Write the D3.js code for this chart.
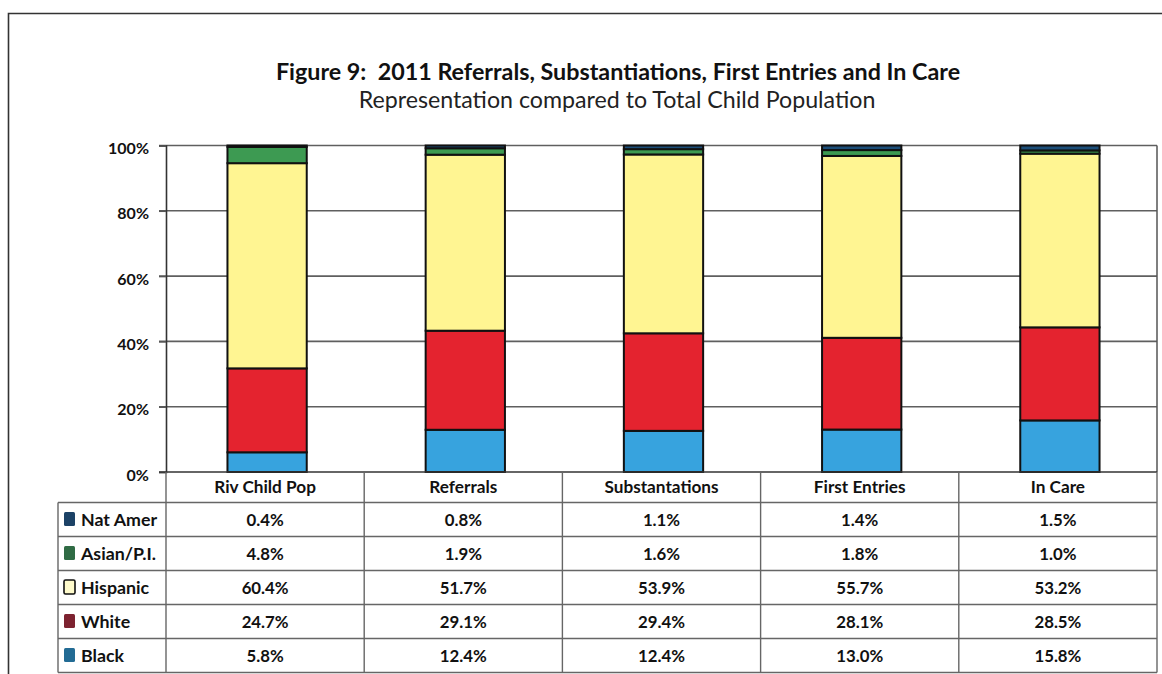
<!DOCTYPE html>
<html>
<head>
<meta charset="utf-8">
<script src="https://cdn.jsdelivr.net/npm/d3@7"></script>
<style>
  html, body { margin: 0; padding: 0; background: #fff; }
  svg { display: block; font-family: Lato, "Open Sans", sans-serif; }
</style>
</head>
<body>
<svg id="chart" width="1162" height="674"></svg>
<script>
// Racial/ethnic composition by stage (percent of each group)
const categories = ["Riv Child Pop", "Referrals", "Substantations", "First Entries", "In Care"];
const groups = ["Nat Amer", "Asian/P.I.", "Hispanic", "White", "Black"];
const natAmer  = [0.4, 0.8, 1.1, 1.4, 1.5];
const asianPI  = [4.8, 1.9, 1.6, 1.8, 1.0];
const hispanic = [60.4, 51.7, 53.9, 55.7, 53.2];
const white    = [24.7, 29.1, 29.4, 28.1, 28.5];
const black    = [5.8, 12.4, 12.4, 13.0, 15.8];
const yTicks = [0, 0.2, 0.4, 0.6, 0.8, 1];

const barColors = {"Nat Amer": "#1d4f7a", "Asian/P.I.": "#3d9a52", "Hispanic": "#fff592", "White": "#e4232f", "Black": "#37a3de"};
const swatchColors = {"Nat Amer": "#1c4266", "Asian/P.I.": "#2f6b44", "Hispanic": "#fffbcc", "White": "#7d2230", "Black": "#226b94"};

const seriesByGroup = {"Nat Amer": natAmer, "Asian/P.I.": asianPI, "Hispanic": hispanic, "White": white, "Black": black};
const rows = categories.map((c, i) => {
  const r = {category: c};
  groups.forEach(g => r[g] = seriesByGroup[g][i]);
  return r;
});

const svg = d3.select("#chart");

// outer frame
svg.append("path")
  .attr("d", "M8.5,674 L8.5,13.5 L1162,13.5")
  .attr("fill", "none").attr("stroke", "#333").attr("stroke-width", 1.6);

// titles
svg.append("text").attr("x", 618).attr("y", 80).attr("text-anchor", "middle")
  .style("white-space", "pre")
  .attr("font-size", 23.3).attr("font-weight", 700).attr("fill", "#111")
  .text("Figure 9:  2011 Referrals, Substantiations, First Entries and In Care");
svg.append("text").attr("x", 617).attr("y", 108).attr("text-anchor", "middle")
  .attr("font-size", 23.2).attr("fill", "#222")
  .text("Representation compared to Total Child Population");

const plot = {left: 166, right: 1157, top: 145.5, bottom: 472};

const x = d3.scaleBand().domain(categories).range([plot.left, plot.right]).padding(0);
const y = d3.scaleLinear().domain([0, 1]).range([plot.bottom, plot.top]);

// gridlines
svg.append("g").selectAll("line").data(yTicks.slice(1)).join("line")
  .attr("x1", plot.left - 7).attr("x2", plot.right)
  .attr("y1", d => y(d)).attr("y2", d => y(d))
  .attr("stroke", "#5f5f5f").attr("stroke-width", 1.6);

// y axis
const yAxis = svg.append("g").attr("transform", `translate(${plot.left},0)`)
  .call(d3.axisLeft(y).tickValues(yTicks).tickFormat(d3.format(".0%")).tickSize(7).tickPadding(10));
yAxis.select(".domain").attr("stroke", "#333").attr("stroke-width", 1.6);
yAxis.selectAll(".tick line").attr("stroke", "#555").attr("stroke-width", 1.5);
yAxis.selectAll(".tick text").attr("font-size", 16).attr("font-weight", 700)
  .attr("fill", "#111").attr("font-family", "Lato, sans-serif").attr("dy", "0.5em");

// right border of plot
svg.append("line").attr("x1", plot.right).attr("x2", plot.right)
  .attr("y1", plot.top).attr("y2", plot.bottom).attr("stroke", "#555").attr("stroke-width", 1.5);

// stacked 100% bars
const stackOrder = ["Black", "White", "Hispanic", "Asian/P.I.", "Nat Amer"];
const stacked = d3.stack().keys(stackOrder).offset(d3.stackOffsetExpand)(rows);
const barW = x.bandwidth() * 0.4;
const barOff = (x.bandwidth() - barW) / 2 + 2;

svg.append("g").selectAll("g").data(stacked).join("g")
  .attr("fill", d => barColors[d.key])
  .selectAll("rect").data(d => d).join("rect")
  .attr("x", d => x(d.data.category) + barOff)
  .attr("width", barW)
  .attr("y", d => y(d[1]))
  .attr("height", d => y(d[0]) - y(d[1]))
  .attr("stroke", "#111").attr("stroke-width", 2);

// baseline
svg.append("line").attr("x1", plot.left - 7).attr("x2", plot.right)
  .attr("y1", plot.bottom).attr("y2", plot.bottom).attr("stroke", "#333").attr("stroke-width", 1.6);

// data table
const rowH = 34;
const headerBottom = 502.5;
const tableBottom = headerBottom + rowH * groups.length;
const legendLeft = 58;
const table = svg.append("g").attr("stroke", "#666").attr("stroke-width", 1.4);

// vertical column separators
const colEdges = categories.map(c => x(c)).concat([plot.right]);
table.selectAll("line.v").data(colEdges).join("line").attr("class", "v")
  .attr("x1", d => d).attr("x2", d => d).attr("y1", plot.bottom).attr("y2", tableBottom);
table.append("line").attr("x1", legendLeft).attr("x2", legendLeft).attr("y1", headerBottom).attr("y2", tableBottom);

// horizontal row separators
const rowEdges = d3.range(groups.length + 1).map(i => headerBottom + i * rowH);
table.selectAll("line.h").data(rowEdges).join("line").attr("class", "h")
  .attr("x1", legendLeft).attr("x2", plot.right).attr("y1", d => d).attr("y2", d => d);

// column headers
svg.append("g").selectAll("text").data(categories).join("text")
  .attr("x", d => x(d) + x.bandwidth() / 2).attr("y", (plot.bottom + headerBottom) / 2 + 6)
  .attr("text-anchor", "middle").attr("font-size", 17.2).attr("font-weight", 700).attr("fill", "#111")
  .text(d => d);

// legend cells
const leg = svg.append("g").selectAll("g").data(groups).join("g")
  .attr("transform", (d, i) => `translate(0,${headerBottom + i * rowH + rowH / 2})`);
leg.append("rect").attr("x", 64).attr("y", -7.5).attr("width", 11).attr("height", 14)
  .attr("rx", 1.5)
  .attr("fill", d => swatchColors[d])
  .attr("stroke", d => d === "Hispanic" ? "#111" : "none").attr("stroke-width", 1.6);
leg.append("text").attr("x", 81).attr("y", 6.5).attr("font-size", 17.8).attr("font-weight", 700)
  .attr("fill", "#111").text(d => d);

// value cells
groups.forEach((g, gi) => {
  svg.append("g").selectAll("text").data(seriesByGroup[g]).join("text")
    .attr("x", (d, i) => x(categories[i]) + x.bandwidth() / 2)
    .attr("y", headerBottom + gi * rowH + rowH / 2 + 6)
    .attr("text-anchor", "middle").attr("font-size", 16.8).attr("font-weight", 700).attr("fill", "#111")
    .text(d => d.toFixed(1) + "%");
});
</script>
</body>
</html>
